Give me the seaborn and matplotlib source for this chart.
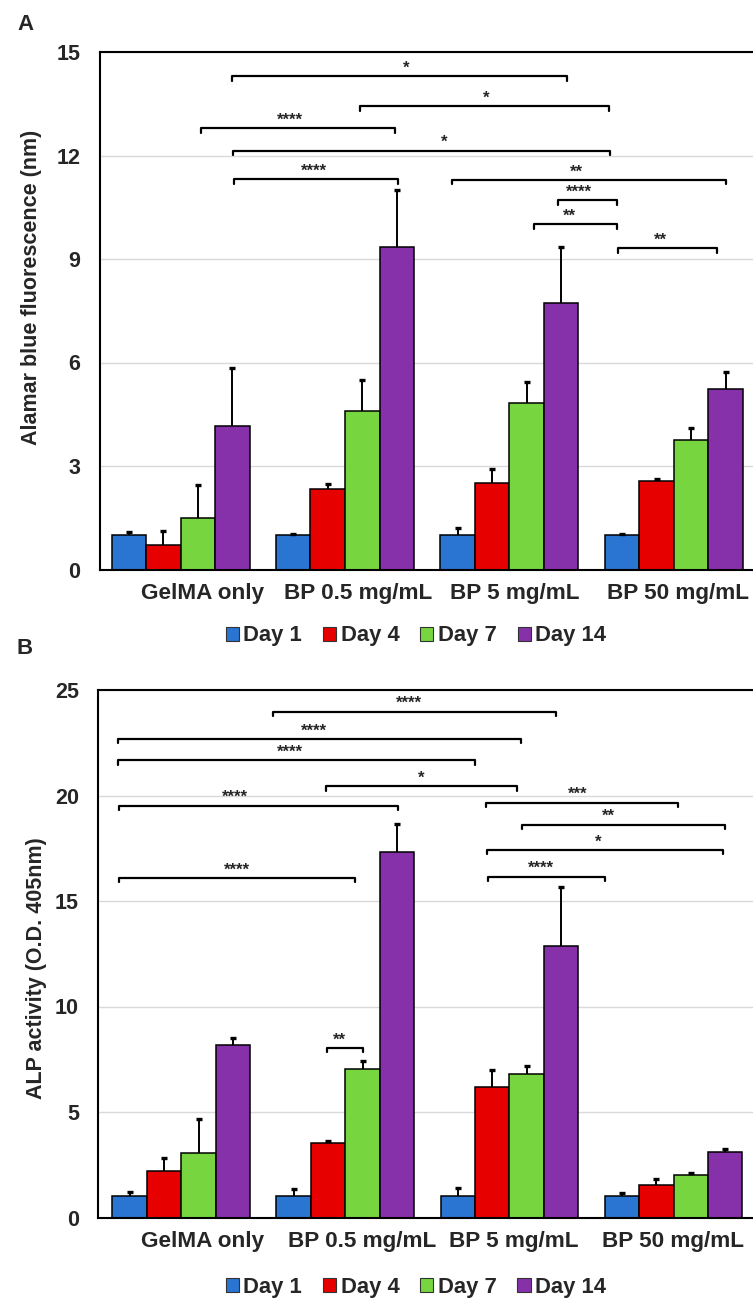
import numpy as np
import pandas as pd
import matplotlib
matplotlib.use("Agg")
import matplotlib.pyplot as plt
import matplotlib.transforms as mtransforms
import seaborn as sns

# ---------------- data ----------------
groups = ["GelMA only", "BP 0.5 mg/mL", "BP 5 mg/mL", "BP 50 mg/mL"]
days = ["Day 1", "Day 4", "Day 7", "Day 14"]

# Panel A: Alamar blue fluorescence (rows = groups, cols = days)
alamar_mean = [
    [1.00, 0.70, 1.48, 4.17],
    [1.00, 2.33, 4.60, 9.36],
    [1.00, 2.50, 4.83, 7.72],
    [1.00, 2.57, 3.75, 5.24],
]
alamar_sd = [
    [0.09, 0.41, 0.96, 1.68],
    [0.03, 0.15, 0.88, 1.63],
    [0.21, 0.41, 0.60, 1.64],
    [0.03, 0.05, 0.34, 0.49],
]

# Panel B: ALP activity
alp_mean = [
    [1.00, 2.22, 3.08, 8.18],
    [1.00, 3.51, 7.04, 17.30],
    [1.00, 6.19, 6.82, 12.85],
    [1.00, 1.54, 2.03, 3.09],
]
alp_sd = [
    [0.20, 0.58, 1.61, 0.33],
    [0.37, 0.11, 0.40, 1.36],
    [0.42, 0.82, 0.35, 2.81],
    [0.15, 0.28, 0.08, 0.15],
]

# significance brackets: (x start, x end, bracket height, label, label x)
alamar_sig = [
    (0.313, 2.349, 14.30, "*", 1.370),
    (1.089, 2.603, 13.43, "*", 1.861),
    (0.125, 1.305, 12.79, "****", 0.663),
    (0.318, 2.614, 12.14, "*", 1.603),
    (0.324, 1.320, 11.31, "****", 0.809),
    (1.653, 3.315, 11.29, "**", 2.410),
    (2.293, 2.655, 10.71, "****", 2.421),
    (2.147, 2.655, 10.01, "**", 2.363),
    (2.658, 3.266, 9.31, "**", 2.921),
]
alp_sig = [
    (0.558, 2.281, 23.97, "****", 1.389),
    (-0.385, 2.070, 22.69, "****", 0.806),
    (-0.385, 1.787, 21.68, "****", 0.660),
    (0.882, 2.047, 20.44, "*", 1.462),
    (-0.382, 1.318, 19.52, "****", 0.329),
    (1.860, 3.030, 19.66, "***", 2.416),
    (2.076, 3.311, 18.62, "**", 2.603),
    (1.865, 3.302, 17.42, "*", 2.539),
    (1.871, 2.580, 16.16, "****", 2.193),
    (-0.382, 1.058, 16.10, "****", 0.338),
    (0.888, 1.107, 8.04, "**", 0.961),
]

colors = ["#2a74d2", "#e60000", "#77d63f", "#8631a9"]

# ---------------- style ----------------
sns.set_theme(style="white")
plt.rcParams["font.family"] = ["Liberation Sans", "DejaVu Sans"]
plt.rcParams["font.weight"] = "bold"
plt.rcParams["axes.labelweight"] = "bold"

W, H = 753, 1298
fig = plt.figure(figsize=(W / 100, H / 100), dpi=100)


def to_long(mean, sd):
    rows = []
    for gi, g in enumerate(groups):
        for di, d in enumerate(days):
            rows.append({"group": g, "day": d, "value": mean[gi][di], "sd": sd[gi][di]})
    return pd.DataFrame(rows)


def draw_panel(rect, mean, sd, sig, ymax, ystep, ylabel, xlim, label_coords,
               legend_anchor, letter, letter_xy, label_shift):
    ax = fig.add_axes(rect)
    df = to_long(mean, sd)
    sns.barplot(data=df, x="group", y="value", hue="day", order=groups,
                hue_order=days, palette=colors, saturation=1, width=0.84,
                edgecolor="black", linewidth=1.1, errorbar=None, ax=ax)
    bar_containers = list(ax.containers)
    # error bars (upper only)
    for di, cont in enumerate(bar_containers):
        xs = [p.get_x() + p.get_width() / 2 for p in cont.patches]
        vals = [mean[gi][di] for gi in range(len(groups))]
        errs = [sd[gi][di] for gi in range(len(groups))]
        eb = ax.errorbar(xs, vals, yerr=[np.zeros(len(errs)), errs], fmt="none",
                         ecolor="black", elinewidth=1.4, capsize=2.2,
                         capthick=2.4, zorder=3)
        caps = eb[1]
        if len(caps) == 2:
            caps[0].set_visible(False)
    ax.set_ylim(0, ymax)
    ax.set_xlim(*xlim)
    ax.set_yticks(np.arange(0, ymax + 0.001, ystep))
    ax.set_yticklabels([f"{int(v)}" for v in np.arange(0, ymax + 0.001, ystep)])
    ax.yaxis.grid(True, color="#d9d9d9", linewidth=1.0)
    ax.set_axisbelow(True)
    for s in ["top", "left", "bottom"]:
        ax.spines[s].set_visible(True)
        ax.spines[s].set_color("black")
        ax.spines[s].set_linewidth(1.5)
    ax.spines["right"].set_visible(False)
    ax.tick_params(axis="both", length=0, labelsize=15.5)
    ax.tick_params(axis="y", pad=14)
    ax.tick_params(axis="x", pad=10, labelsize=16.2)
    for lab in ax.get_yticklabels() + ax.get_xticklabels():
        lab.set_fontweight("bold")
    for lab, dx in zip(ax.get_xticklabels(), label_shift):
        lab.set_transform(lab.get_transform() +
                          mtransforms.ScaledTranslation(dx / 100, 0, fig.dpi_scale_trans))
    ax.set_xlabel("")
    ax.set_ylabel(ylabel, fontsize=15.5, fontweight="bold")
    ax.yaxis.set_label_coords(*label_coords)

    # brackets
    ax_h_px = rect[3] * H
    h = 4.5 * ymax / ax_h_px
    for x1, x2, y, lab, lx in sig:
        ax.plot([x1, x1, x2, x2], [y - h, y, y, y - h], color="black",
                lw=1.6, clip_on=False, zorder=4)
        ax.annotate(lab, (lx, y), xytext=(0, 2.5), textcoords="offset points",
                    ha="center", va="baseline", fontsize=12, fontweight="bold")

    sns.move_legend(ax, "center", bbox_to_anchor=legend_anchor, ncol=4,
                    frameon=False, title=None, fontsize=15.8,
                    handlelength=0.6, handleheight=0.6, handletextpad=0.2,
                    columnspacing=0.95)
    leg = ax.get_legend()
    for t in leg.get_texts():
        t.set_fontweight("bold")
    for hnd in leg.legend_handles:
        hnd.set_edgecolor("#333333")
        hnd.set_linewidth(0.8)
    fig.text(letter_xy[0] / W, 1 - letter_xy[1] / H, letter, fontsize=16,
             fontweight="heavy", ha="center", va="center")
    return ax


draw_panel([99.9 / W, 1 - 569.5 / H, 1 - 99.9 / W, 517.5 / H],
           alamar_mean, alamar_sd, alamar_sig, 15, 3,
           "Alamar blue fluorescence (nm)", (-0.491, 3.482), (-0.089, 0.545),
           (0.484, -0.1285), "A", (25, 24), [22, 13, 5, 4])

draw_panel([98.4 / W, 1 - 1217.5 / H, 1 - 98.4 / W, 527.5 / H],
           alp_mean, alp_sd, alp_sig, 25, 5,
           "ALP activity (O.D. 405nm)", (-0.505, 3.484), (-0.078, 0.473),
           (0.485, -0.1318), "B", (25, 649), [21, 17, 4, -1])

fig.savefig("out.png", dpi=100)
